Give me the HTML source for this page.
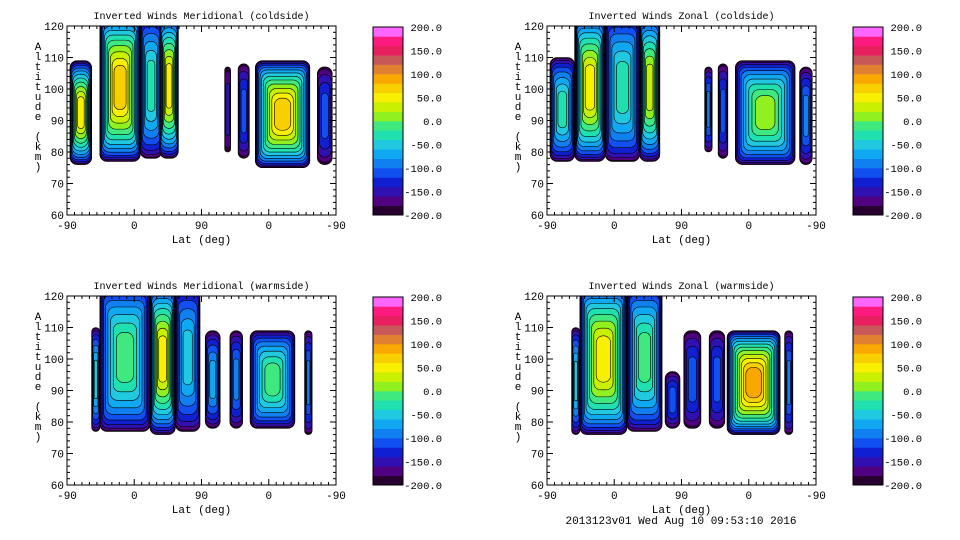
<!DOCTYPE html>
<html><head><meta charset="utf-8">
<style>
html,body{margin:0;padding:0;background:#fff;}
svg{display:block;font-family:"Liberation Mono",monospace;}
</style></head>
<body>
<svg id="chart" width="960" height="540" viewBox="0 0 960 540"></svg>
<script>
// ---- data ----
const panelTitles = ["Inverted Winds Meridional (coldside)","Inverted Winds Zonal (coldside)","Inverted Winds Meridional (warmside)","Inverted Winds Zonal (warmside)"];
const xTickLabels = ["-90","0","90","0","-90"];
const yTickValues = [60,70,80,90,100,110,120];
const cbarLabels = ["200.0","150.0","100.0","50.0","0.0","-50.0","-100.0","-150.0","-200.0"];
// strips: [xStart, xEnd, altBottom, altTop, coreValue] ; x in axis units 0..360
const stripsTL = [[4,33,76,109,50],[44,98,77,124,60],[98,127,78,124,-40],[124,149,78,124,40],[211,219,80,107,-150],[229,244,78,108,-120],[252,325,75,109,60],[335,355,76,107,-120]];
const stripsTR = [[4,37,77,110,-30],[37,78,77,124,40],[78,124,77,124,-40],[124,151,77,124,20],[211,221,80,107,-100],[229,242,78,108,-120],[252,332,76,109,0],[338,355,76,107,-100]];
const stripsBL = [[33,44,77,110,-60],[44,111,77,124,-20],[111,145,76,124,40],[145,178,77,124,-60],[185,205,78,109,-80],[218,235,78,109,-100],[245,305,78,109,-20],[318,328,76,109,-100]];
const stripsBR = [[33,44,76,110,-60],[44,107,76,124,50],[107,154,77,124,-20],[158,178,78,96,-120],[183,206,78,109,-110],[217,238,78,109,-120],[241,312,76,109,90],[318,329,76,109,-100]];
const palette = ["#280030","#500080","#3010b0","#1020d0","#1050f0","#1080f0","#10a8f0","#20c8e0","#20e0b0","#40e880","#90f020","#c8f000","#f8f000","#f8d000","#f8a800","#e08030","#c85858","#e82060","#ff1a80","#ff66ff"];

const NS="http://www.w3.org/2000/svg";
const svg=document.getElementById('chart');
function el(t,a,p){const e=document.createElementNS(NS,t);for(const k in a)e.setAttribute(k,a[k]);(p||svg).appendChild(e);return e;}
const panels=[{ox:0,oy:0,strips:stripsTL,name:'meridional-coldside'},{ox:480,oy:0,strips:stripsTR,name:'zonal-coldside'},{ox:0,oy:270,strips:stripsBL,name:'meridional-warmside'},{ox:480,oy:270,strips:stripsBR,name:'zonal-warmside'}];
function band(v){return Math.max(0,Math.min(19,Math.floor((v+200)/20)));}
const defs=el('defs',{});

panels.forEach((p,pi)=>{
  const g=el('g',{},svg);
  
  
  const L=67+p.ox,R=336+p.ox,T=26+p.oy,B=215+p.oy;
  const xs=u=>L+u/360*(R-L);
  const ys=a=>B-(a-60)/60*(B-T);
  const cp=el('clipPath',{id:'clip'+pi},defs);
  el('rect',{x:L,y:T,width:R-L,height:B-T},cp);
  const t=el('text',{x:(L+R)/2,y:19+p.oy,'font-size':10,'text-anchor':'middle',fill:'#000'},g);
  t.textContent=panelTitles[pi];
  
  const sg=el('g',{'clip-path':'url(#clip'+pi+')'},g);
  
  p.strips.forEach(s=>{
    const x0=xs(s[0]),x1=xs(s[1]),y0=ys(s[3]),y1=ys(s[2]);
    const w=x1-x0,h=y1-y0;
    const n=band(s[4])+1;
    for(let i=0;i<n;i++){
      const f=Math.pow(i/n,1.8)*0.8;
      const ixx=Math.min(w/2-0.5,f*w/2);
      const iyy=Math.min(h/2-0.5,f*h/2);
      const rw=Math.max(1,w-2*ixx),rh=Math.max(1,h-2*iyy);
      const r=el('rect',{x:x0+ixx,y:y0+iyy,width:rw,height:rh,rx:Math.min(7,rw/2),fill:palette[i],stroke:'#000','stroke-width':0.6},sg);
      
    }
  });
  const fr=el('rect',{x:L,y:T,width:R-L,height:B-T,fill:'none',stroke:'#000','stroke-width':1},g);
  
  for(let a=60;a<=120;a+=2){const y=ys(a),len=(a%10==0)?6:3;el('line',{x1:L,x2:L+len,y1:y,y2:y,stroke:'#000'},g);el('line',{x1:R,x2:R-len,y1:y,y2:y,stroke:'#000'},g);}
  for(let u=0;u<=360;u+=10){const x=xs(u),len=(u%90==0)?6:3;el('line',{x1:x,x2:x,y1:B,y2:B-len,stroke:'#000'},g);el('line',{x1:x,x2:x,y1:T,y2:T+len,stroke:'#000'},g);}
  yTickValues.forEach(v=>{const tt=el('text',{x:L-3,y:ys(v)+4,'font-size':11,'text-anchor':'end'},g);tt.textContent=v;});
  xTickLabels.forEach((lb,i)=>{const tt=el('text',{x:xs(i*90),y:B+14,'font-size':11,'text-anchor':'middle'},g);tt.textContent=lb;});
  const xt=el('text',{x:(L+R)/2,y:B+28,'font-size':11,'text-anchor':'middle'},g);
  xt.textContent='Lat (deg)';
  const yt=el('text',{x:38+p.ox,y:T+24,'font-size':11,'text-anchor':'middle'},g);
  
  "Altitude (km)".split('').forEach((c,i)=>{const sp=el('tspan',{x:38+p.ox,y:T+24+i*10},yt);sp.textContent=c;});
  const cg=el('g',{},g);
  
  const cx=373+p.ox,cw=30,cT=27+p.oy,cB=215+p.oy,bh=(cB-cT)/20;
  palette.forEach((c,i)=>{const r=el('rect',{x:cx,y:cB-(i+1)*bh,width:cw,height:bh+0.3,fill:c},cg);});
  el('rect',{x:cx,y:cT,width:cw,height:cB-cT,fill:'none',stroke:'#000'},cg);
  cbarLabels.forEach((lb,i)=>{const tt=el('text',{x:442+p.ox,y:cT+i*(cB-cT)/8+4,'font-size':10.5,'text-anchor':'end'},cg);tt.textContent=lb;});
});
const ft=el('text',{x:681,y:524,'font-size':11,'text-anchor':'middle'});
ft.textContent='2013123v01 Wed Aug 10 09:53:10 2016';


</script>
</body></html>
